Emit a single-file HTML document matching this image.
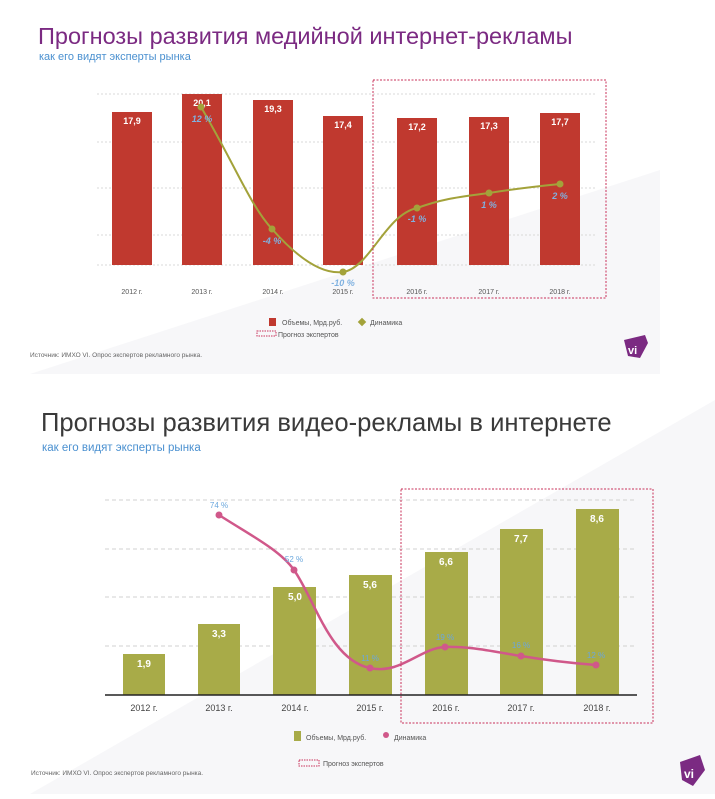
<!DOCTYPE html>
<html><head><meta charset="utf-8"><style>
body{margin:0;width:715px;height:794px;overflow:hidden;background:#fff;font-family:"Liberation Sans","DejaVu Sans",sans-serif}
</style></head><body>
<svg width="715" height="794" viewBox="0 0 715 794" xmlns="http://www.w3.org/2000/svg" font-family="Liberation Sans, DejaVu Sans, sans-serif">
<!-- background diagonal shading -->
<polygon points="30,374 660,170 660,374" fill="#f7f7f9"/>
<polygon points="30,794 715,400 715,794" fill="#f7f7f9"/>
<rect x="0" y="374" width="715" height="16" fill="#fff"/>

<!-- ===== TOP CHART ===== -->
<text x="38" y="44" font-size="23.5" fill="#7b2a82">Прогнозы развития медийной интернет-рекламы</text>
<text x="39" y="60" font-size="11" fill="#4a90d0">как его видят эксперты рынка</text>
<g stroke="#d8d8d8" stroke-width="1" stroke-dasharray="2,2">
<line x1="97" y1="94" x2="597" y2="94"/><line x1="97" y1="142" x2="597" y2="142"/>
<line x1="97" y1="188" x2="597" y2="188"/><line x1="97" y1="235" x2="597" y2="235"/>
<line x1="97" y1="265" x2="597" y2="265"/>
</g>
<g fill="#c0392f">
<rect x="112" y="112" width="40" height="153"/><rect x="182" y="94" width="40" height="171"/>
<rect x="253" y="100" width="40" height="165"/><rect x="323" y="116" width="40" height="149"/>
<rect x="397" y="118" width="40" height="147"/><rect x="469" y="117" width="40" height="148"/>
<rect x="540" y="113" width="40" height="152"/>
</g>
<g fill="#fff" font-size="9" font-weight="bold" text-anchor="middle">
<text x="132" y="124">17,9</text><text x="202" y="106">20,1</text><text x="273" y="112">19,3</text>
<text x="343" y="128">17,4</text><text x="417" y="130">17,2</text><text x="489" y="129">17,3</text><text x="560" y="125">17,7</text>
</g>
<path d="M201,107 C235,165 250,205 272,229 C295,255 320,275 343,272 C370,268 385,215 417,208 C445,198 460,197 489,193 C520,188 540,186 560,184" fill="none" stroke="#a3a23a" stroke-width="2"/>
<g fill="#a3a23a"><circle cx="201" cy="107" r="3.5"/><circle cx="272" cy="229" r="3.5"/><circle cx="343" cy="272" r="3.5"/><circle cx="417" cy="208" r="3.5"/><circle cx="489" cy="193" r="3.5"/><circle cx="560" cy="184" r="3.5"/></g>
<g fill="#7fb1e0" font-size="9" font-weight="bold" font-style="italic" text-anchor="middle">
<text x="202" y="122">12 %</text><text x="272" y="244">-4 %</text><text x="343" y="286">-10 %</text>
<text x="417" y="222">-1 %</text><text x="489" y="208">1 %</text><text x="560" y="199">2 %</text>
</g>
<g fill="#555" font-size="7" text-anchor="middle">
<text x="132" y="294">2012 г.</text><text x="202" y="294">2013 г.</text><text x="273" y="294">2014 г.</text><text x="343" y="294">2015 г.</text>
<text x="417" y="294">2016 г.</text><text x="489" y="294">2017 г.</text><text x="560" y="294">2018 г.</text>
</g>
<rect x="373" y="80" width="233" height="218" fill="none" stroke="#c8325a" stroke-width="1" stroke-dasharray="2,1.5"/>
<rect x="269" y="318" width="7" height="8" fill="#c0392f"/>
<text x="282" y="325" font-size="7" fill="#555">Объемы, Мрд.руб.</text>
<rect x="359" y="319" width="6" height="6" fill="#a3a23a" transform="rotate(45 362 322)"/>
<text x="370" y="325" font-size="7" fill="#555">Динамика</text>
<rect x="257" y="331" width="19" height="5" fill="none" stroke="#c8325a" stroke-width="1" stroke-dasharray="1.5,1"/>
<text x="278" y="337" font-size="7" fill="#555">Прогноз экспертов</text>
<text x="30" y="357" font-size="6.5" fill="#666">Источник: ИМХО VI. Опрос экспертов рекламного рынка.</text>
<polygon points="624,340 645,335 648,343 640,358 628,356" fill="#7b2a82"/>
<text x="628" y="354" font-size="11" font-weight="bold" fill="#fff">vi</text>

<!-- ===== BOTTOM CHART ===== -->
<text x="41" y="431" font-size="25.6" fill="#3a3a3a">Прогнозы развития видео-рекламы в интернете</text>
<text x="42" y="451" font-size="11.5" fill="#4a90d0">как его видят эксперты рынка</text>
<g stroke="#d0d0d0" stroke-width="1" stroke-dasharray="4,3">
<line x1="105" y1="500" x2="637" y2="500"/><line x1="105" y1="549" x2="637" y2="549"/>
<line x1="105" y1="597" x2="637" y2="597"/><line x1="105" y1="646" x2="637" y2="646"/>
</g>
<g fill="#a8ab48">
<rect x="123" y="654" width="42" height="41"/><rect x="198" y="624" width="42" height="71"/>
<rect x="273" y="587" width="43" height="108"/><rect x="349" y="575" width="43" height="120"/>
<rect x="425" y="552" width="43" height="143"/><rect x="500" y="529" width="43" height="166"/>
<rect x="576" y="509" width="43" height="186"/>
</g>
<line x1="105" y1="695" x2="637" y2="695" stroke="#222" stroke-width="1.5"/>
<g fill="#fff" font-size="10" font-weight="bold" text-anchor="middle">
<text x="144" y="667">1,9</text><text x="219" y="637">3,3</text><text x="295" y="600">5,0</text>
<text x="370" y="588">5,6</text><text x="446" y="565">6,6</text><text x="521" y="542">7,7</text><text x="597" y="522">8,6</text>
</g>
<path d="M219,515 C250,535 280,550 294,570 C315,600 330,660 370,668 C400,675 420,648 445,647 C470,646 495,652 521,656 C545,660 570,663 596,665" fill="none" stroke="#d0588a" stroke-width="2.5"/>
<g fill="#d0588a"><circle cx="219" cy="515" r="3.5"/><circle cx="294" cy="570" r="3.5"/><circle cx="370" cy="668" r="3.5"/><circle cx="445" cy="647" r="3.5"/><circle cx="521" cy="656" r="3.5"/><circle cx="596" cy="665" r="3.5"/></g>
<g fill="#6aa7dd" font-size="8" text-anchor="middle">
<text x="219" y="508">74 %</text><text x="294" y="562">52 %</text><text x="370" y="661">11 %</text>
<text x="445" y="640">19 %</text><text x="521" y="648">16 %</text><text x="596" y="658">12 %</text>
</g>
<g fill="#444" font-size="9" text-anchor="middle">
<text x="144" y="711">2012 г.</text><text x="219" y="711">2013 г.</text><text x="295" y="711">2014 г.</text><text x="370" y="711">2015 г.</text>
<text x="446" y="711">2016 г.</text><text x="521" y="711">2017 г.</text><text x="597" y="711">2018 г.</text>
</g>
<rect x="401" y="489" width="252" height="234" fill="none" stroke="#c8325a" stroke-width="1" stroke-dasharray="2,1.5"/>
<rect x="294" y="731" width="7" height="10" fill="#a8ab48"/>
<text x="306" y="740" font-size="7" fill="#555">Объемы, Мрд.руб.</text>
<circle cx="386" cy="735" r="3" fill="#d0588a"/>
<text x="394" y="740" font-size="7" fill="#555">Динамика</text>
<rect x="299" y="760" width="20" height="6" fill="none" stroke="#c8325a" stroke-width="1" stroke-dasharray="1.5,1"/>
<text x="323" y="766" font-size="7" fill="#555">Прогноз экспертов</text>
<text x="31" y="775" font-size="6.5" fill="#666">Источник: ИМХО VI. Опрос экспертов рекламного рынка.</text>
<polygon points="680,762 700,755 705,770 693,786 682,780" fill="#7b2a82"/>
<text x="684" y="778" font-size="12" font-weight="bold" fill="#fff">vi</text>
</svg>
</body></html>
